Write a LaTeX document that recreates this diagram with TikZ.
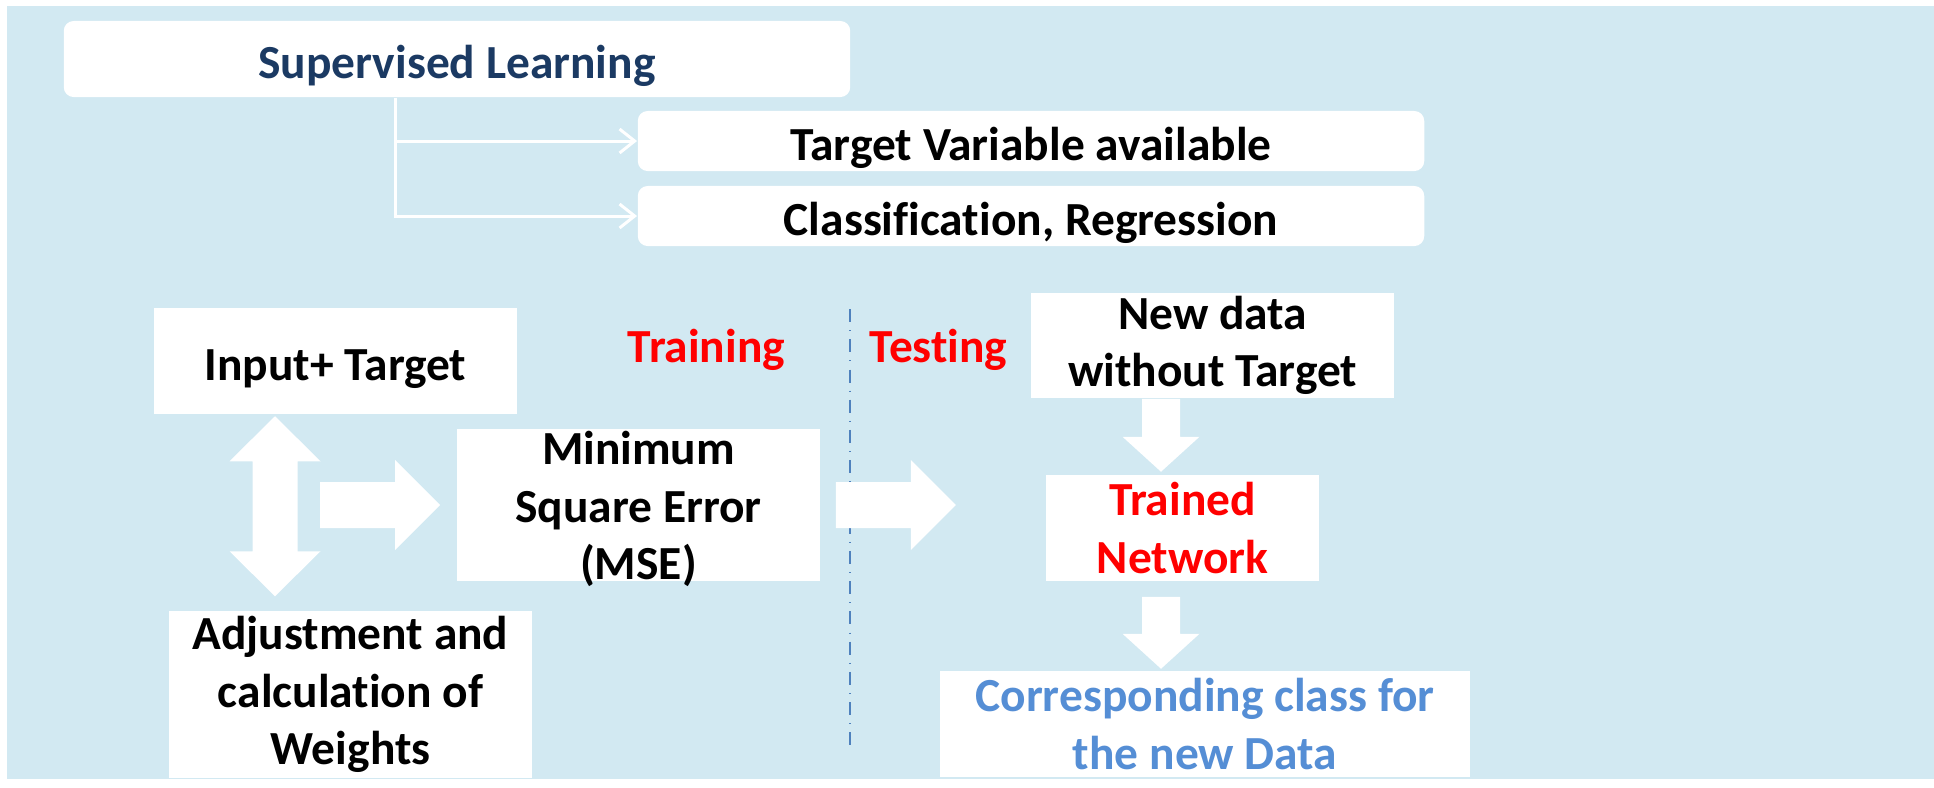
\documentclass[tikz,border=0pt]{standalone}
\usepackage{fontspec}
\setmainfont{Carlito}[Ligatures={NoCommon}]
\usepackage{tikz}
\usepackage{xcolor}
\usetikzlibrary{calc}
\usetikzlibrary{arrows.meta}
\definecolor{panelcolorc}{RGB}{210,233,242}
\definecolor{navycolorc}{HTML}{1B3A63}
\definecolor{classcolorc}{HTML}{558ED5}
\definecolor{sepcolorc}{HTML}{4F81BD}
\definecolor{phasered}{rgb}{1, 0, 0}
\colorlet{panelcolor}{panelcolorc}
\colorlet{navycolor}{navycolorc}
\colorlet{classcolor}{classcolorc}
\colorlet{sepcolor}{sepcolorc}
\newcommand{\boxfont}{\fontsize{13.5}{16.3}\selectfont\bfseries}
\tikzstyle{roundbox} = [
    fill=white,
    rectangle,
    rounded corners=2.8pt,
    inner sep=0pt,
    text height=11pt,
    text depth=0pt,
    font=\boxfont
    ]
\tikzstyle{plainbox} = [
    fill=white,
    rectangle,
    inner sep=0pt,
    align=center,
    font=\boxfont
    ]
\tikzstyle{oneline} = [
    text height=11pt,
    text depth=0pt
    ]
\tikzstyle{phase} = [
    text=phasered,
    font=\boxfont,
    inner sep=0pt,
    anchor=base
    ]
\tikzstyle{branch} = [
    draw=white,
    line width=0.85pt,
    -{Straight Barb[length=4.3pt,width=6.8pt]}
    ]
\tikzstyle{blockarrow} = [fill=white]
\tikzstyle{separator} = [
    draw=sepcolor,
    line width=0.4pt,
    dash pattern=on 3.7pt off 2.3pt on 0.3pt off 2.3pt
    ]
\newcommand{\blockdown}[2]{% start, length
\fill[blockarrow, shift={(#1)}] (-19,0) -- (-19,#2-35) -- (-38.5,#2-35) -- (0,#2)
    -- (38.5,#2-35) -- (19,#2-35) -- (19,0) -- cycle;}
\newcommand{\blockright}[1]{% start
\fill[blockarrow, shift={(#1)}] (0,-23) -- (75,-23) -- (75,-45) -- (120,0)
    -- (75,45) -- (75,23) -- (0,23) -- cycle;}

\begin{document}
\begin{tikzpicture}[x=0.01cm, y=-0.01cm]
\useasboundingbox (0,0) rectangle (1934,787);
\fill[panelcolor] (7,6) rectangle (1934,779);

% header
\node[roundbox, minimum width=7.86cm, minimum height=0.76cm, text=navycolor] (learning) at (457,59) {Supervised Learning};
\node[roundbox, minimum width=7.86cm, minimum height=0.6cm] (target) at (1031,141) {Target Variable available};
\node[roundbox, minimum width=7.86cm, minimum height=0.6cm] (task) at (1031,216) {Classification, Regression};
\coordinate (fork) at ($(learning.south west)+(332,0)$);
\draw[branch] (fork) |- (target.west);
\draw[branch] (fork) |- (task.west);

% training
\node[plainbox, oneline, minimum width=3.63cm, minimum height=1.05cm] (input) at (335.5,361) {Input+ Target};
\node[plainbox, minimum width=3.63cm, minimum height=1.52cm] (mse) at (638.5,505) {};
\node[align=center, font=\boxfont, inner sep=0pt] (mse-text) at ($(mse.center)+(0,4)$) {Minimum\\Square Error\\(MSE)};
\node[plainbox, minimum width=3.63cm, minimum height=1.67cm] (weights) at (350.5,694.5) {Adjustment and\\calculation of\\Weights};
\node[phase] (training) at (706.5,362) {Training};

\coordinate (dbl-top) at ($(input.south)+(-60.5,2)$);
\fill[blockarrow, shift={(dbl-top)}] (0,0) -- (45.5,45) -- (22.5,45) -- (22.5,135) -- (45.5,135)
    -- (0,180) -- (-45.5,135) -- (-22.5,135) -- (-22.5,45) -- (-45.5,45) -- cycle;
\coordinate (adjust-out) at ($(mse.west)+(-136,0)$);
\blockright{adjust-out}

% testing
\coordinate (sep-top) at (850,309);
\coordinate (sep-bot) at (850,750);
\draw[separator] (sep-top) -- (sep-bot);
\node[phase] (testing) at (938.5,362) {Testing};
\node[plainbox, minimum width=3.63cm, minimum height=1.05cm] (newdata) at (1212.5,345.5) {New data\\without Target};
\node[plainbox, minimum width=2.73cm, minimum height=1.06cm, text=phasered] (trained) at (1182.5,528) {Trained\\Network};
\node[plainbox, minimum width=5.3cm, minimum height=1.06cm, text=classcolor] (result) at (1205,724) {Corresponding class for\\the new Data};

\coordinate (mse-out) at ($(mse.east)+(15,0)$);
\blockright{mse-out}
\coordinate (newdata-out) at ($(newdata.south)+(-51.5,0)$);
\blockdown{newdata-out}{73}
\coordinate (trained-out) at ($(trained.south)+(-21.5,15)$);
\blockdown{trained-out}{72}
\end{tikzpicture}
\end{document}
